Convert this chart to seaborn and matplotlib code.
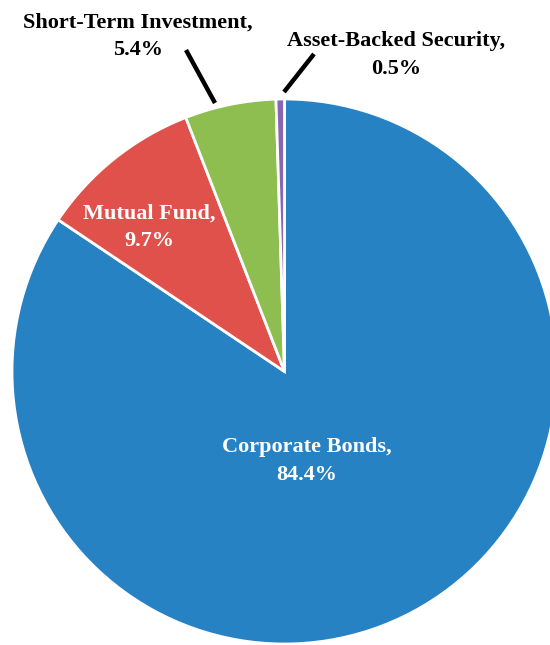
import matplotlib
matplotlib.use("Agg")
from matplotlib import pyplot as plt
import seaborn as sns

# Data
categories = ['Corporate Bonds', 'Mutual Fund', 'Short-Term Investment', 'Asset-Backed Security']
shares = [84.4, 9.7, 5.4, 0.5]
colors = ['#2782C3', '#E0514C', '#8DBE4F', '#8A66B2']

sns.set_style('white')
plt.rcParams['font.family'] = ['Liberation Serif', 'DejaVu Serif']
plt.rcParams['font.weight'] = 'bold'

# Layout in pixels (pie runs off the right edge)
W, H = 550, 645
cx, cy, r = 284.5, 371.5, 272.5

fig = plt.figure(figsize=(W / 100, H / 100), dpi=100)
ax = fig.add_axes([0, 0, 1, 1])
ax.pie(
    shares,
    colors=colors,
    startangle=90,
    counterclock=False,
    radius=1,
    wedgeprops={'edgecolor': 'white', 'linewidth': 2},
)
ax.set_xlim(-cx / r, (W - cx) / r)
ax.set_ylim(-(H - cy) / r, cy / r)
ax.set_aspect('equal')
ax.axis('off')

def px(x, y):
    return (x - cx) / r, (cy - y) / r

labels = [f'{c},\n{v}%' for c, v in zip(categories, shares)]
label_pos = [px(307, 461), px(149, 227), px(138, 36), px(396, 55)]
label_col = ['white', 'white', 'black', 'black']
for lab, pos, col in zip(labels, label_pos, label_col):
    ax.text(*pos, lab, ha='center', va='center', color=col, fontsize=16,
            fontweight='bold', linespacing=1.5)

# Leader lines for the small slices
for (x0, y0), (x1, y1) in [((186, 50), (215, 103)), ((314, 54), (284, 92))]:
    a, b = px(x0, y0), px(x1, y1)
    ax.plot([a[0], b[0]], [a[1], b[1]], color='black', linewidth=3.2, solid_capstyle='butt')

fig.savefig('out.png', dpi=100, facecolor='white')
